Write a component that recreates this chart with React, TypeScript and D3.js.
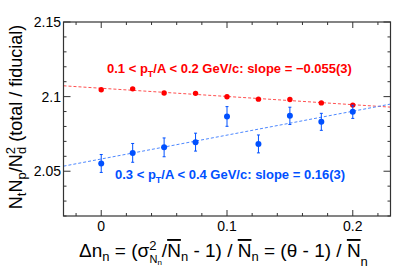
import React from "react";
import * as d3 from "d3";

const xValues = [0, 0.025, 0.05, 0.075, 0.1, 0.125, 0.15, 0.175, 0.2];
const redValues = [2.1046, 2.1052, 2.1024, 2.1022, 2.0999, 2.0983, 2.0981, 2.0958, 2.0943];
const redErrors = [0.0008, 0.0008, 0.0008, 0.0008, 0.0008, 0.0008, 0.0008, 0.0008, 0.0008];
const blueValues = [2.0552, 2.0623, 2.066, 2.0695, 2.0867, 2.0683, 2.0871, 2.0831, 2.0898];
const blueErrors = [0.006, 0.0063, 0.0063, 0.006, 0.0066, 0.006, 0.0058, 0.0057, 0.0044];
const redFit = { intercept: 2.1056, slope: -0.055 };
const blueFit = { intercept: 2.0582, slope: 0.16 };
const xMajorTicks = [0, 0.1, 0.2];
const xTickLabels = ["0", "0.1", "0.2"];
const yMajorTicks = [2.05, 2.1, 2.15];
const yTickLabels = ["2.05", "2.1", "2.15"];

const W = 399, H = 270;
const M = { left: 63.5, right: 390.5, top: 22, bottom: 216 };
const FONT = "'Liberation Sans', Arial, Helvetica, sans-serif";
const RED = "#ff0000";
const BLUE = "#0050ff";

export default function App() {
  const x = d3.scaleLinear().domain([-0.03, 0.23]).range([M.left, M.right]);
  const y = d3.scaleLinear().domain([2.02, 2.15]).range([M.bottom, M.top]);

  const xMinor = d3.range(-0.02, 0.2301, 0.02).map((v) => +v.toFixed(3));
  const yMinor = d3.range(2.02, 2.1501, 0.01).map((v) => +v.toFixed(3));
  const isMajX = (v: number) => xMajorTicks.some((m) => Math.abs(m - v) < 1e-6);
  const isMajY = (v: number) => yMajorTicks.some((m) => Math.abs(m - v) < 1e-6);

  const fitLine = (f: { intercept: number; slope: number }) =>
    d3.line<number>().x((d) => x(d)).y((d) => y(f.intercept + f.slope * d))([-0.03, 0.23]) || "";

  const axisColor = "#333";
  const ov = { textDecoration: "overline" } as React.CSSProperties;

  return (
    <svg width={W} height={H} style={{ position: "absolute", left: 0, top: 0, background: "#fff" }} fontFamily={FONT}>
      <rect width={W} height={H} fill="#fff" />
      <path d={fitLine(redFit)} stroke="#ff5050" strokeWidth={1} strokeDasharray="3,2" fill="none" />
      <path d={fitLine(blueFit)} stroke="#4d88ff" strokeWidth={1} strokeDasharray="3,2" fill="none" />

      {xValues.map((xv, i) => (
        <g key={"r" + i}>
          <line x1={x(xv)} x2={x(xv)} y1={y(redValues[i] - redErrors[i])} y2={y(redValues[i] + redErrors[i])} stroke={RED} strokeWidth={1} />
          <circle cx={x(xv)} cy={y(redValues[i])} r={2.7} fill={RED} />
        </g>
      ))}
      {xValues.map((xv, i) => {
        const cx = x(xv);
        const lo = y(blueValues[i] - blueErrors[i]);
        const hi = y(blueValues[i] + blueErrors[i]);
        return (
          <g key={"b" + i}>
            <line x1={cx} x2={cx} y1={lo} y2={hi} stroke={BLUE} strokeWidth={1} />
            <line x1={cx - 1.5} x2={cx + 1.5} y1={lo} y2={lo} stroke={BLUE} strokeWidth={1} />
            <line x1={cx - 1.5} x2={cx + 1.5} y1={hi} y2={hi} stroke={BLUE} strokeWidth={1} />
            <circle cx={cx} cy={y(blueValues[i])} r={3} fill={BLUE} />
          </g>
        );
      })}

      <rect x={M.left} y={M.top} width={M.right - M.left} height={M.bottom - M.top} fill="none" stroke={axisColor} strokeWidth={1.2} />
      {xMinor.map((v, i) => {
        const len = isMajX(v) ? 6 : 3;
        return (
          <g key={"xt" + i}>
            <line x1={x(v)} x2={x(v)} y1={M.bottom} y2={M.bottom - len} stroke={axisColor} strokeWidth={1} />
            <line x1={x(v)} x2={x(v)} y1={M.top} y2={M.top + len} stroke={axisColor} strokeWidth={1} />
          </g>
        );
      })}
      {yMinor.map((v, i) => {
        const len = isMajY(v) ? 7 : 3;
        return (
          <g key={"yt" + i}>
            <line x1={M.left} x2={M.left + len} y1={y(v)} y2={y(v)} stroke={axisColor} strokeWidth={1} />
            <line x1={M.right} x2={M.right - len} y1={y(v)} y2={y(v)} stroke={axisColor} strokeWidth={1} />
          </g>
        );
      })}
      {xMajorTicks.map((v, i) => (
        <text key={"xl" + i} x={x(v)} y={231} fontSize={14} textAnchor="middle" fill="#000">
          {xTickLabels[i]}
        </text>
      ))}
      {yMajorTicks.map((v, i) => (
        <text key={"yl" + i} x={61} y={y(v) + 5} fontSize={14} textAnchor="end" fill="#000">
          {yTickLabels[i]}
        </text>
      ))}

      <text x={107} y={73} fontSize={13} fontWeight="bold" fill={RED}>
        0.1 &lt; p<tspan dy={4} fontSize={9}>T</tspan><tspan dy={-4}>/A &lt; 0.2 GeV/c: slope = −0.055(3)</tspan>
      </text>
      <text x={115} y={179} fontSize={13} fontWeight="bold" fill={BLUE}>
        0.3 &lt; p<tspan dy={4} fontSize={9}>T</tspan><tspan dy={-4}>/A &lt; 0.4 GeV/c: slope = 0.16(3)</tspan>
      </text>

      <text transform={`translate(22,117) rotate(-90)`} textAnchor="middle" fontSize={18} fill="#000">
        N<tspan dy={4} fontSize={13}>t</tspan>
        <tspan dy={-4}>N</tspan>
        <tspan dy={4} fontSize={13}>p</tspan>
        <tspan dy={-4}>/N</tspan>
        <tspan dy={-7} fontSize={13}>2</tspan>
        <tspan dx={-7} dy={11} fontSize={13}>d</tspan>
        <tspan dy={-4}> (total / fiducial)</tspan>
      </text>

      <text x={79} y={257} fontSize={19} fill="#000">
        Δn<tspan dy={4} fontSize={13}>n</tspan>
        <tspan dy={-4}> = (σ</tspan>
        <tspan dy={-7} fontSize={13}>2</tspan>
        <tspan dx={-7} dy={13} fontSize={11}>N</tspan>
        <tspan dy={2} fontSize={8}>n</tspan>
        <tspan dy={-8}>/</tspan>
        <tspan style={ov}>N</tspan>
        <tspan dy={4} fontSize={13}>n</tspan>
        <tspan dy={-4}> - 1) / </tspan>
        <tspan style={ov}>N</tspan>
        <tspan dy={4} fontSize={13}>n</tspan>
        <tspan dy={-4}> = (θ - 1) / </tspan>
        <tspan style={ov}>N</tspan>
        <tspan dy={9} fontSize={13}>n</tspan>
      </text>
    </svg>
  );
}
